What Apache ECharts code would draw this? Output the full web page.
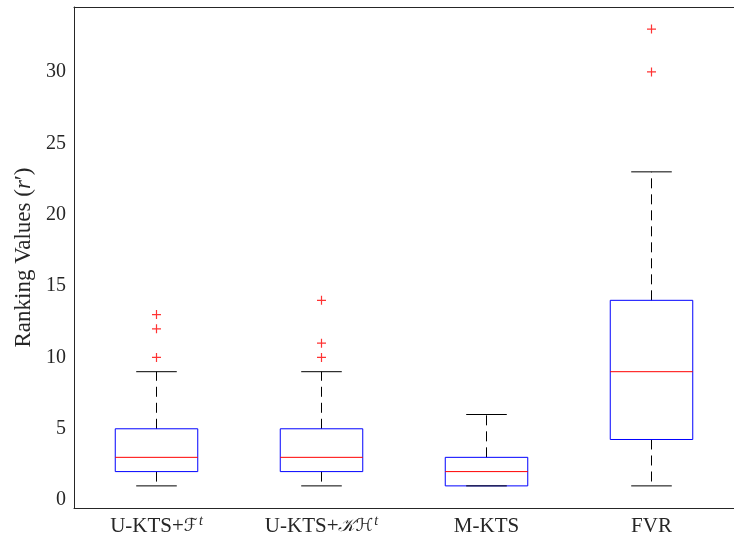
<!DOCTYPE html>
<html>
<head>
<meta charset="utf-8">
<script src="https://cdn.jsdelivr.net/npm/echarts@6/dist/echarts.min.js"></script>
<style>html,body{margin:0;padding:0;background:#fff}#main{width:734px;height:540px}</style>
</head>
<body>
<div id="main"></div>
<script>
var categories = ['U-KTS+F', 'U-KTS+KH', 'M-KTS', 'FVR'];
var whiskerLow = [1, 1, 1, 1];
var quart1 = [2, 2, 1, 4.25];
var medians = [3, 3, 2, 9];
var quart3 = [5, 5, 3, 14];
var whiskerHigh = [9, 9, 6, 23];
var outliers = [[0, 10], [0, 12], [0, 13], [1, 10], [1, 11], [1, 14], [3, 30], [3, 33]];
var yTicks = [0, 5, 10, 15, 20, 25, 30];

var axisColor = '#262626';
var fontFam = 'Liberation Serif';

var boxData = [];
for (var i = 0; i < categories.length; i++) {
    boxData.push([i, whiskerLow[i], quart1[i], medians[i], quart3[i], whiskerHigh[i]]);
}

// x labels with calligraphic letter + superscript t
var labelText = {
    'U-KTS+F': '{n|U-KTS+}{c|ℱ}{s|t}',
    'U-KTS+KH': '{n|U-KTS+}{c|𝒦ℋ}{s|t}',
    'M-KTS': '{n|M-KTS}',
    'FVR': '{n|FVR}'
};

function renderBox(params, api) {
    var x = api.value(0);
    var low = api.coord([x, api.value(1)]);
    var q1 = api.coord([x, api.value(2)]);
    var med = api.coord([x, api.value(3)]);
    var q3 = api.coord([x, api.value(4)]);
    var high = api.coord([x, api.value(5)]);
    var band = api.size([1, 0])[0];
    var hb = band * 0.25;
    var hc = band * 0.123;
    var cx = low[0];
    var dash = { stroke: '#000', lineWidth: 1, lineDash: [10, 6] };
    var solid = { stroke: '#000', lineWidth: 1 };
    var children = [];
    if (high[1] < q3[1]) {
        children.push({ type: 'line', shape: { x1: cx, y1: q3[1], x2: cx, y2: high[1] }, style: dash });
    }
    if (low[1] > q1[1]) {
        children.push({ type: 'line', shape: { x1: cx, y1: q1[1], x2: cx, y2: low[1] }, style: dash });
    }
    children.push({ type: 'rect', shape: { x: cx - hb, y: q3[1], width: hb * 2, height: q1[1] - q3[1] },
        style: { fill: 'none', stroke: '#0000ff', lineWidth: 1 } });
    children.push({ type: 'line', shape: { x1: cx - hb, y1: med[1], x2: cx + hb, y2: med[1] },
        style: { stroke: '#ff0000', lineWidth: 1 } });
    children.push({ type: 'line', shape: { x1: cx - hc, y1: high[1], x2: cx + hc, y2: high[1] }, style: solid });
    children.push({ type: 'line', shape: { x1: cx - hc, y1: low[1], x2: cx + hc, y2: low[1] }, style: solid });
    return { type: 'group', children: children };
}

var chart = echarts.init(document.getElementById('main'));
var option = {
    animation: false,
    backgroundColor: '#fff',
    grid: { left: 74, top: 7, width: 669, height: 501 },
    xAxis: [{
        type: 'category',
        data: categories,
        boundaryGap: true,
        axisLine: { onZero: false, lineStyle: { color: axisColor } },
        axisTick: { inside: true, length: 7, alignWithLabel: true, lineStyle: { color: axisColor } },
        axisLabel: {
            margin: 6,
            formatter: function (v) { return labelText[v]; },
            rich: {
                n: { fontFamily: fontFam, fontSize: 21, lineHeight: 24, color: axisColor },
                c: { fontFamily: 'DejaVu Sans', fontSize: 18, lineHeight: 24, fontStyle: 'italic', color: axisColor },
                s: { fontFamily: fontFam, fontSize: 14, lineHeight: 12, fontStyle: 'italic', color: axisColor, verticalAlign: 'top', padding: [0, 0, 0, 1] }
            }
        },
        splitLine: { show: false }
    }, {
        type: 'category',
        position: 'top',
        data: categories,
        boundaryGap: true,
        axisLine: { onZero: false, lineStyle: { color: axisColor } },
        axisTick: { inside: true, length: 7, alignWithLabel: true, lineStyle: { color: axisColor } },
        axisLabel: { show: false }
    }],
    yAxis: {
        type: 'value',
        min: -0.55,
        max: 34.55,
        name: 'Ranking Values ({i|r}′)',
        nameLocation: 'middle',
        nameGap: 38,
        nameTextStyle: {
            fontFamily: fontFam, fontSize: 23, color: axisColor,
            rich: { i: { fontFamily: fontFam, fontSize: 23, fontStyle: 'italic', color: axisColor } }
        },
        axisLine: { show: true, lineStyle: { color: axisColor } },
        axisTick: { inside: true, length: 7, customValues: yTicks, lineStyle: { color: axisColor } },
        axisLabel: { customValues: yTicks, margin: 8, fontFamily: fontFam, fontSize: 20, color: axisColor },
        splitLine: { show: false }
    },
    series: [{
        type: 'custom',
        renderItem: renderBox,
        encode: { x: 0, y: [1, 2, 3, 4, 5] },
        data: boxData,
        z: 2
    }, {
        type: 'scatter',
        symbol: 'path://M0,5L10,5M5,0L5,10',
        symbolSize: 9,
        itemStyle: { color: 'none', borderColor: '#ff0000', borderWidth: 1.2 },
        data: outliers,
        z: 3
    }]
};
chart.setOption(option);
</script>
</body>
</html>
